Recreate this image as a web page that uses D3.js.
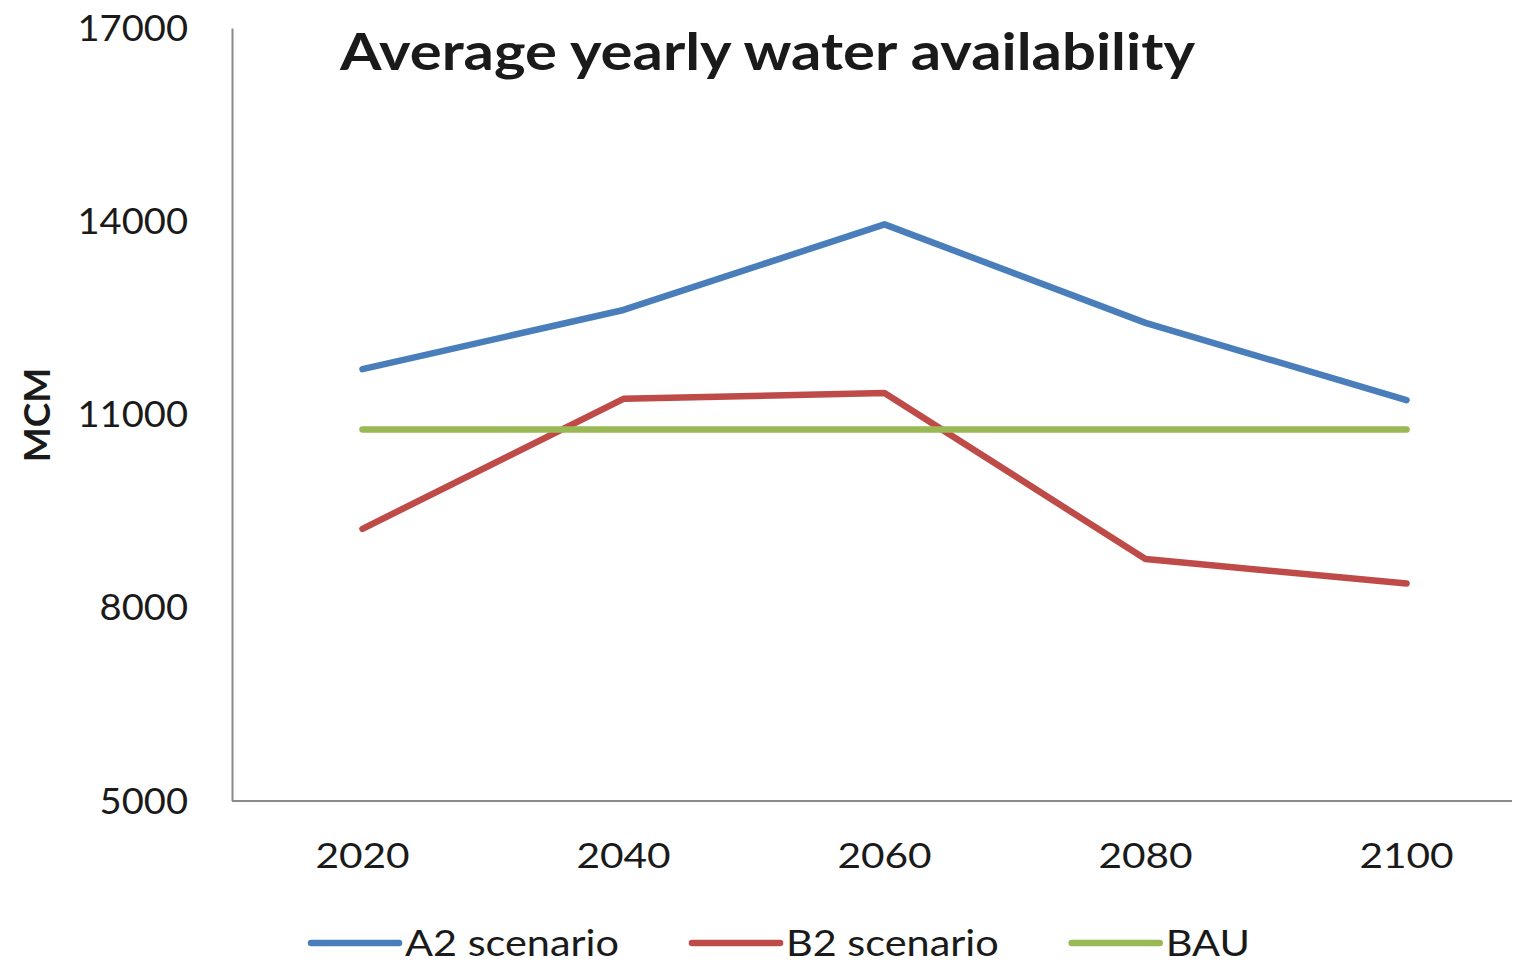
<!DOCTYPE html>
<html>
<head>
<meta charset="utf-8">
<script src="https://cdn.jsdelivr.net/npm/d3@7"></script>
<style>
  html, body { margin: 0; padding: 0; background: #ffffff; }
  svg { display: block; }
  text { font-family: Lato, "Open Sans", "Liberation Sans", sans-serif; fill: #1a1a1a; }
</style>
</head>
<body>
<svg id="chart" width="1524" height="964"></svg>
<script>
// Average yearly water availability (MCM) by scenario
const years = ["2020", "2040", "2060", "2080", "2100"];
const a2Scenario = [11700, 12620, 13950, 12420, 11220];
const b2Scenario = [9220, 11240, 11330, 8750, 8370];
const bauScenario = [10765, 10765, 10765, 10765, 10765];
const yTicks = [5000, 8000, 11000, 14000, 17000];
const seriesNames = ["A2 scenario", "B2 scenario", "BAU"];
const seriesColors = ["#4a7ebb", "#be4b48", "#98b954"];
const titleText = "Average yearly water availability";
const yAxisTitle = "MCM";

const svg = d3.select("#chart");
const W = 1524, H = 964;
const plotLeft = 232, plotTop = 28, plotBottom = 800.5;

const x = d3.scaleBand().domain(years).range([plotLeft, plotLeft + 261 * years.length]);
const y = d3.scaleLinear().domain([5000, 17000]).range([plotBottom, plotTop]);

const stretch = 1.16;

// y axis
const gy = svg.append("g")
  .attr("transform", `translate(${plotLeft},0)`)
  .call(d3.axisLeft(y).tickValues(yTicks).tickSize(0).tickPadding(44).tickFormat(d3.format("d")));
gy.select(".domain").attr("stroke", "#8a8a8a").attr("stroke-width", 2);
gy.selectAll("text")
  .style("font-family", "Lato, sans-serif")
  .attr("font-size", 37)
  .attr("fill", "#1a1a1a")
  .attr("dy", "0.34em")
  .each(function () {
    const w = this.getComputedTextLength();
    d3.select(this).attr("textLength", w * 1.03).attr("lengthAdjust", "spacingAndGlyphs");
  });

// x axis
const gx = svg.append("g")
  .attr("transform", `translate(0,${plotBottom})`)
  .call(d3.axisBottom(x).tickSize(0).tickPadding(43));
gx.select(".domain").attr("stroke", "#8a8a8a").attr("stroke-width", 2)
  .attr("d", `M${plotLeft},0.5H${W - 12}`);
gx.selectAll("text")
  .style("font-family", "Lato, sans-serif")
  .attr("font-size", 35)
  .attr("fill", "#1a1a1a")
  .each(function () {
    const w = this.getComputedTextLength();
    d3.select(this).attr("textLength", w * stretch).attr("lengthAdjust", "spacingAndGlyphs");
  });

// series lines
const line = d3.line()
  .x((d, i) => x(years[i]) + x.bandwidth() / 2)
  .y(d => y(d));

[a2Scenario, b2Scenario, bauScenario].forEach((vals, i) => {
  svg.append("path")
    .datum(vals)
    .attr("d", line)
    .attr("fill", "none")
    .attr("stroke", seriesColors[i])
    .attr("stroke-width", 6.5)
    .attr("stroke-linecap", "round")
    .attr("stroke-linejoin", "round");
});

// title
svg.append("text")
  .attr("x", 340)
  .attr("y", 70)
  .attr("font-size", 51)
  .attr("font-weight", 700)
  .attr("fill", "#000")
  .attr("textLength", 855)
  .attr("lengthAdjust", "spacingAndGlyphs")
  .text(titleText);

// y axis title
svg.append("text")
  .attr("transform", "translate(50,415) rotate(-90)")
  .attr("text-anchor", "middle")
  .attr("font-size", 37)
  .attr("font-weight", 700)
  .attr("fill", "#000")
  .text(yAxisTitle);

// legend
const legend = svg.append("g").attr("transform", "translate(308,943)");
let cx = 0;
seriesNames.forEach((name, i) => {
  const item = legend.append("g").attr("transform", `translate(${cx},0)`);
  item.append("line")
    .attr("x1", 3).attr("x2", 91).attr("y1", 0).attr("y2", 0)
    .attr("stroke", seriesColors[i])
    .attr("stroke-width", 6.5)
    .attr("stroke-linecap", "round");
  const t = item.append("text")
    .attr("x", 97)
    .attr("y", 13)
    .attr("font-size", 36)
    .attr("fill", "#1a1a1a")
    .text(name);
  const w = t.node().getComputedTextLength() * 1.15;
  t.attr("textLength", w).attr("lengthAdjust", "spacingAndGlyphs");
  cx += 97 + w + 70;
});
</script>
</body>
</html>
